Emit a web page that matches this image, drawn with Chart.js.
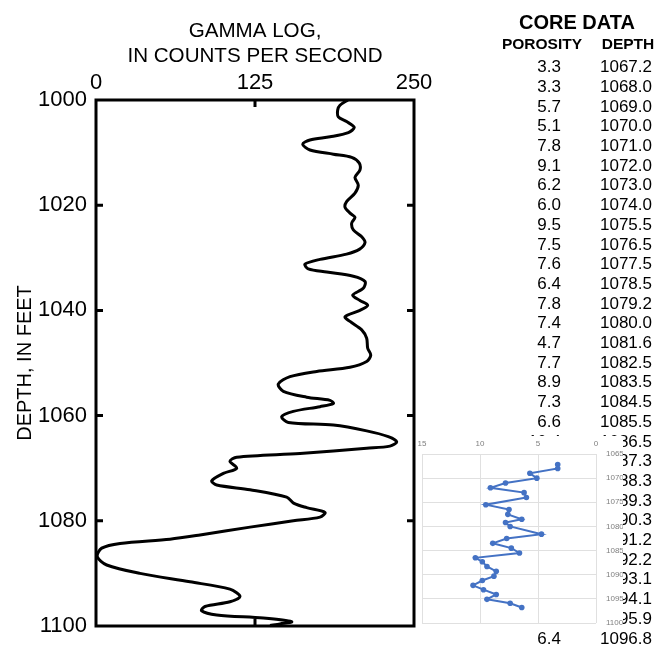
<!DOCTYPE html>
<html>
<head>
<meta charset="utf-8">
<script src="https://cdn.jsdelivr.net/npm/chart.js@4.4.1/dist/chart.umd.min.js"></script>
<style>
  html, body { margin: 0; padding: 0; background: #fff; }
  body { width: 659px; height: 646px; position: relative; overflow: hidden; font-family: 'Liberation Sans', Arial, sans-serif; color: #000; }
  #main { position: absolute; left: 0; top: 0; }
  #inset { position: absolute; left: 418px; top: 436px; background: #fff; }
  .t { position: absolute; white-space: nowrap; line-height: 20px; }
</style>
</head>
<body>
<canvas id="main" width="659" height="646"></canvas>
<div id="table"></div>
<canvas id="inset" width="205" height="192"></canvas>
<script>
// ---- Gamma log (depth in feet, counts per second) ----
const gammaDepth = [1000.0, 1001.0, 1001.9, 1003.2, 1004.1, 1005.2, 1006.2, 1007.0, 1007.6, 1008.4, 1009.5, 1010.3, 1010.9, 1012.0, 1013.3, 1014.7, 1016.2, 1017.7, 1019.3, 1020.4, 1021.5, 1022.3, 1023.4, 1024.7, 1026.0, 1027.1, 1028.4, 1029.3, 1030.3, 1031.2, 1032.1, 1032.7, 1033.5, 1034.5, 1035.8, 1037.1, 1038.1, 1039.0, 1040.0, 1041.2, 1042.1, 1043.7, 1045.3, 1047.2, 1048.5, 1049.7, 1050.8, 1051.6, 1052.6, 1054.0, 1055.4, 1056.5, 1057.1, 1057.7, 1058.3, 1059.2, 1060.2, 1061.3, 1061.8, 1062.9, 1064.0, 1065.0, 1065.8, 1066.2, 1067.2, 1067.9, 1068.7, 1070.0, 1071.0, 1072.4, 1073.2, 1074.1, 1075.5, 1076.7, 1077.5, 1078.4, 1079.3, 1080.0, 1081.2, 1082.7, 1083.5, 1084.3, 1085.2, 1086.8, 1088.4, 1090.0, 1091.6, 1093.0, 1094.4, 1095.4, 1096.3, 1097.1, 1097.9, 1098.5, 1099.2, 1099.6, 1099.9];
const gammaCps = [198, 191.8, 190, 190.5, 197, 203, 198.4, 184, 168.2, 162.5, 168.2, 186.6, 201, 207, 207.5, 203.6, 206.2, 203.6, 197, 195.8, 199.7, 203.6, 201, 202.3, 208.9, 211.5, 207, 197, 176.1, 164.3, 166.9, 181.4, 202.3, 211.5, 210.1, 201.8, 207.5, 213.6, 207.5, 195.8, 199.7, 208.9, 212.8, 213.6, 216, 212.8, 199.7, 173.5, 152.5, 143.3, 147.3, 165.6, 184, 186.6, 176.1, 155.1, 146, 151.2, 186.6, 212.8, 229.8, 236.4, 231.1, 212.8, 160.4, 110.6, 105.3, 110.6, 100.1, 91, 94.9, 121.1, 149.9, 155.7, 165.6, 180, 176.1, 155.1, 121.1, 81.8, 58.2, 18.9, 4.5, 1.0, 8.4, 34.6, 73.9, 105.3, 113.2, 105.3, 85.7, 83, 94.9, 131.5, 153.8, 144.7, 136.8];
const gammaTitle = ['GAMMA LOG,', 'IN COUNTS PER SECOND'];
const depthTitle = 'DEPTH, IN FEET';

// ---- Core data table ----
const tableTitle = 'CORE DATA';
const tableHeaders = ['POROSITY', 'DEPTH'];
const corePorosity = [3.3, 3.3, 5.7, 5.1, 7.8, 9.1, 6.2, 6.0, 9.5, 7.5, 7.6, 6.4, 7.8, 7.4, 4.7, 7.7, 8.9, 7.3, 6.6, 10.4, 9.8, 9.4, 8.6, 8.8, 9.8, 10.6, 9.7, 8.6, 7.4, 6.4];
const coreDepth = [1067.2, 1068.0, 1069.0, 1070.0, 1071.0, 1072.0, 1073.0, 1074.0, 1075.5, 1076.5, 1077.5, 1078.5, 1079.2, 1080.0, 1081.6, 1082.5, 1083.5, 1084.5, 1085.5, 1086.5, 1087.3, 1088.3, 1089.3, 1090.3, 1091.2, 1092.2, 1093.1, 1094.1, 1095.9, 1096.8];

// ---- Inset porosity plot ----
const insetPorosity = [3.3, 3.3, 5.7, 5.1, 7.8, 9.1, 6.2, 6.0, 9.5, 7.5, 7.6, 6.4, 7.8, 7.4, 4.7, 7.7, 8.9, 7.3, 6.6, 10.4, 9.8, 9.4, 8.6, 8.8, 9.8, 10.6, 9.7, 8.6, 9.4, 7.4, 6.4];
const insetDepth = [1067.2, 1068.0, 1069.0, 1070.0, 1071.0, 1072.0, 1073.0, 1074.0, 1075.5, 1076.5, 1077.5, 1078.5, 1079.2, 1080.0, 1081.6, 1082.5, 1083.5, 1084.5, 1085.5, 1086.5, 1087.3, 1088.3, 1089.3, 1090.3, 1091.2, 1092.2, 1093.1, 1094.1, 1095.1, 1095.9, 1096.8];

Chart.defaults.font.family = "'Liberation Sans', Arial, sans-serif";
Chart.defaults.color = '#000';
Chart.defaults.animation = false;

const plain = v => String(v);
function noPad(s) { s.paddingLeft = 0; s.paddingRight = 0; s.paddingTop = 0; s.paddingBottom = 0; }

// frame + inward tick marks
const framePlugin = {
  id: 'frame',
  afterDatasetsDraw(chart) {
    const { ctx, chartArea: a, scales } = chart;
    ctx.save();
    ctx.strokeStyle = '#000';
    ctx.lineWidth = 3;
    ctx.lineCap = 'butt';
    ctx.strokeRect(a.left, a.top, a.right - a.left, a.bottom - a.top);
    const tl = 7;
    ctx.beginPath();
    scales.y.ticks.forEach(t => {
      if (t.value === scales.y.min || t.value === scales.y.max) return;
      const py = scales.y.getPixelForValue(t.value);
      ctx.moveTo(a.left, py); ctx.lineTo(a.left + tl, py);
      ctx.moveTo(a.right, py); ctx.lineTo(a.right - tl, py);
    });
    scales.x.ticks.forEach(t => {
      if (t.value === scales.x.min || t.value === scales.x.max) return;
      const px = scales.x.getPixelForValue(t.value);
      ctx.moveTo(px, a.top); ctx.lineTo(px, a.top + tl);
      ctx.moveTo(px, a.bottom); ctx.lineTo(px, a.bottom - tl);
    });
    ctx.stroke();
    ctx.restore();
  }
};

new Chart(document.getElementById('main'), {
  type: 'scatter',
  data: {
    datasets: [{
      data: gammaDepth.map((d, i) => ({ x: gammaCps[i], y: d })),
      showLine: true,
      borderColor: '#000',
      borderWidth: 3,
      pointRadius: 0,
      tension: 0.3,
      fill: false
    }]
  },
  options: {
    responsive: false,
    animation: false,
    layout: { autoPadding: false, padding: { left: 0, top: 0, right: 245, bottom: 20 } },
    plugins: { legend: { display: false }, tooltip: { enabled: false } },
    scales: {
      x: {
        type: 'linear', position: 'top', min: 0, max: 250,
        ticks: { stepSize: 125, font: { size: 22 }, padding: 4, color: '#000', maxRotation: 0, callback: plain },
        grid: { display: false, drawTicks: false },
        border: { display: false },
        title: { display: true, text: gammaTitle, color: '#000', font: { size: 20.6, lineHeight: 1.22 }, padding: { top: 19, bottom: 0 } },
        afterFit(s) { s.height = 100; noPad(s); }
      },
      y: {
        type: 'linear', position: 'left', min: 1000, max: 1100, reverse: true,
        ticks: { stepSize: 20, font: { size: 22 }, padding: 9, color: '#000', callback: plain },
        grid: { display: false, drawTicks: false },
        border: { display: false },
        title: { display: true, text: depthTitle, color: '#000', font: { size: 20, lineHeight: 1.2 }, padding: { top: 13, bottom: 0 } },
        afterFit(s) { s.width = 96; noPad(s); }
      }
    }
  },
  plugins: [framePlugin]
});

// table (HTML text)
(function buildTable() {
  const root = document.getElementById('table');
  function add(text, style) {
    const d = document.createElement('div');
    d.className = 't';
    d.textContent = text;
    Object.assign(d.style, style);
    root.appendChild(d);
    return d;
  }
  add(tableTitle, { left: '517px', width: '120px', textAlign: 'center', top: '11px', fontSize: '20px', fontWeight: 'bold', lineHeight: '22px' });
  add(tableHeaders[0], { left: '492px', width: '100px', textAlign: 'center', top: '35px', fontSize: '15.5px', fontWeight: 'bold', lineHeight: '18px' });
  add(tableHeaders[1], { left: '588px', width: '80px', textAlign: 'center', top: '35px', fontSize: '15.5px', fontWeight: 'bold', lineHeight: '18px' });
  corePorosity.forEach((p, i) => {
    const cy = 67 + 19.7 * i;
    add(p.toFixed(1), { left: '491px', width: '70px', textAlign: 'right', top: (cy - 9.8) + 'px', fontSize: '17px' });
    add(coreDepth[i].toFixed(1), { left: '572px', width: '80px', textAlign: 'right', top: (cy - 9.8) + 'px', fontSize: '17px' });
  });
})();

// inset chart
new Chart(document.getElementById('inset'), {
  type: 'scatter',
  data: {
    datasets: [{
      data: insetDepth.map((d, i) => ({ x: insetPorosity[i], y: d })),
      showLine: true,
      borderColor: '#4472C4',
      borderWidth: 2,
      pointRadius: 2.8,
      pointBackgroundColor: '#4472C4',
      pointBorderColor: '#4472C4',
      pointBorderWidth: 0,
      tension: 0
    }]
  },
  options: {
    responsive: false,
    animation: false,
    layout: { autoPadding: false, padding: { left: 4, top: 0, right: 0, bottom: 5 } },
    plugins: { legend: { display: false }, tooltip: { enabled: false } },
    scales: {
      x: {
        type: 'linear', position: 'top', min: 0, max: 15, reverse: true,
        ticks: { stepSize: 5, font: { size: 8 }, color: '#7f7f7f', padding: 5, maxRotation: 0, callback: plain },
        grid: { color: '#e0e0e0', lineWidth: 1, drawTicks: false },
        border: { display: false },
        afterFit(s) { s.height = 18; noPad(s); }
      },
      y: {
        type: 'linear', position: 'right', min: 1065, max: 1100, reverse: true,
        ticks: { stepSize: 5, font: { size: 8 }, color: '#7f7f7f', padding: 10, callback: plain },
        grid: { color: '#e0e0e0', lineWidth: 1, drawTicks: false },
        border: { display: false },
        afterFit(s) { s.width = 27; noPad(s); }
      }
    }
  }
});
</script>
</body>
</html>
